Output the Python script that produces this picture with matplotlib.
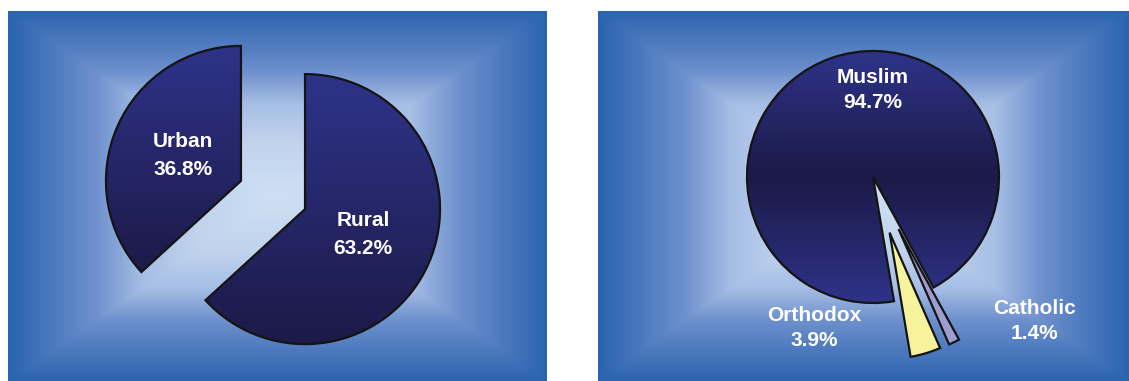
import numpy as np
import matplotlib.pyplot as plt
from matplotlib.colors import LinearSegmentedColormap

# population by area of residence (%)
area_names = ["Rural", "Urban"]
area_share = [63.2, 36.8]

# population by religion (%)
faith_names = ["Orthodox", "Catholic", "Muslim"]
faith_share = [3.9, 1.4, 94.7]

plt.rcParams['font.family'] = ['Liberation Sans', 'DejaVu Sans']

W, H = 1129, 381
PANEL_H = 370
fig = plt.figure(figsize=(W / 100, H / 100), dpi=100)

bg_cmap = LinearSegmentedColormap.from_list(
    'bg', [(0, '#cfe0f3'), (0.3, '#c0d3ed'), (0.5, '#a6bee5'), (0.67, '#6f91cd'),
           (0.85, '#4a78bd'), (1, '#2a64b0')])
navy_down = LinearSegmentedColormap.from_list('navy_down', ['#2e3389', '#1c1a48'])
navy_mid = LinearSegmentedColormap.from_list('navy_mid', ['#2e3389', '#1c1a47', '#2e3389'])

label_style = dict(color='white', fontsize=15, fontweight='bold',
                   ha='center', va='center')


def make_panel(left, width):
    ax = fig.add_axes([left / W, 0, width / W, PANEL_H / H])
    xs = np.linspace(-1, 1, width)
    ys = np.linspace(-1, 1, PANEL_H)
    X, Y = np.meshgrid(xs, ys)
    ax.imshow(np.maximum(np.abs(X), np.abs(Y)), cmap=bg_cmap, vmin=0, vmax=1,
              extent=(0, width, 0, PANEL_H), aspect='auto', zorder=0)
    return ax


def finish(ax, width):
    ax.set_xlim(0, width)
    ax.set_ylim(0, PANEL_H)
    ax.set_aspect('auto')
    ax.set_axis_off()


def shade(ax, wedge, cmap):
    bb = wedge.get_path().get_extents()
    grad = np.linspace(0, 1, 256)[:, None]
    im = ax.imshow(grad, cmap=cmap, extent=(bb.x0, bb.x1, bb.y0, bb.y1),
                   origin='upper', aspect='auto', zorder=1.5)
    im.set_clip_path(wedge)
    wedge.set_facecolor('none')
    wedge.set_zorder(2)


edge = dict(edgecolor='#141414', linewidth=1.6)

# left: urban / rural (explode is in data units here, i.e. pixels)
ax1 = make_panel(8, 539)
area_labels = [f"{n}\n{v}%" for n, v in zip(area_names, area_share)]
wedges, texts = ax1.pie(area_share, labels=area_labels, radius=135, center=(265, 186),
                        startangle=90, counterclock=False, explode=[35, 35],
                        labeldistance=0.47, wedgeprops=edge,
                        textprops=dict(linespacing=1.6, **label_style))
for w in wedges:
    shade(ax1, w, navy_down)
finish(ax1, 539)

# right: religion
ax2 = make_panel(598, 531)
wedges, _ = ax2.pie(faith_share, radius=126, center=(275, 204), startangle=-80.4,
                    explode=[58, 58, 0],
                    colors=['#f7f29c', '#9d9dcf', '#2e3389'], wedgeprops=edge)
shade(ax2, wedges[2], navy_mid)
faith_label_xy = [(216, 53), (436, 60), (275, 291)]
for (x, y), n, v in zip(faith_label_xy, faith_names, faith_share):
    ax2.text(x, y, f"{n}\n{v}%", zorder=3, linespacing=1.35, **label_style)
finish(ax2, 531)

fig.savefig('out.png', dpi=100, facecolor='white')
